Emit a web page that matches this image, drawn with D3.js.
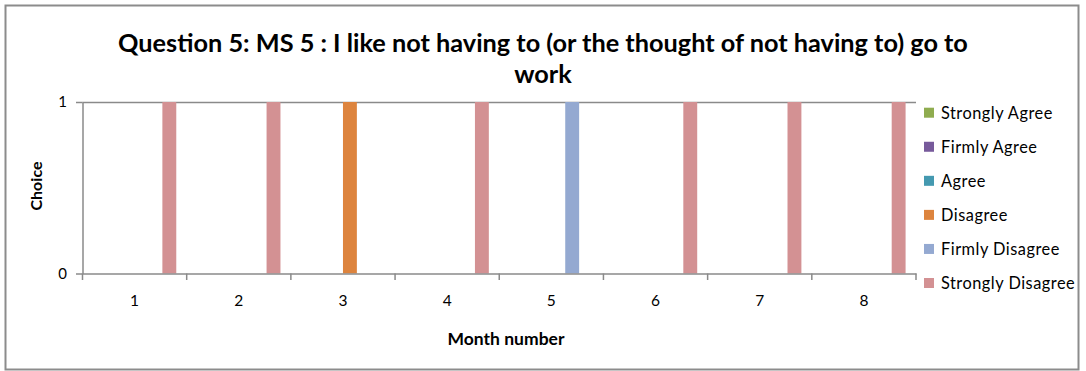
<!DOCTYPE html>
<html>
<head>
<meta charset="utf-8">
<script src="https://cdn.jsdelivr.net/npm/d3@7"></script>
<style>
  html, body { margin: 0; padding: 0; background: #fff; }
  svg { display: block; }
  text { font-family: Lato, "Liberation Sans", sans-serif; fill: #000; }
</style>
</head>
<body>
<svg id="chart" width="1086" height="371"></svg>
<script>
// Month categories and answer series
const months = ["1", "2", "3", "4", "5", "6", "7", "8"];
const seriesNames = ["Strongly Agree", "Firmly Agree", "Agree", "Disagree", "Firmly Disagree", "Strongly Disagree"];
const seriesColors = ["#8fac4f", "#775a9b", "#4499b0", "#dd843e", "#94a9d1", "#d39193"];

// Value of each series per month (1 = chosen answer)
const stronglyAgree    = [0, 0, 0, 0, 0, 0, 0, 0];
const firmlyAgree      = [0, 0, 0, 0, 0, 0, 0, 0];
const agree            = [0, 0, 0, 0, 0, 0, 0, 0];
const disagree         = [0, 0, 1, 0, 0, 0, 0, 0];
const firmlyDisagree   = [0, 0, 0, 0, 1, 0, 0, 0];
const stronglyDisagree = [1, 1, 0, 1, 0, 1, 1, 1];

const yTicks = [0, 1];

const titleLines = ["Question 5: MS 5 : I like not having to (or the thought of not having to) go to", "work"];
const xTitle = "Month number";
const yTitle = "Choice";

const seriesValues = [stronglyAgree, firmlyAgree, agree, disagree, firmlyDisagree, stronglyDisagree];
const rows = [];
months.forEach((m, i) => {
  seriesNames.forEach((s, j) => rows.push({ month: m, series: s, value: seriesValues[j][i], color: seriesColors[j] }));
});

const svg = d3.select("#chart");
const axisGrey = "#8a8a8a";

// Outer chart frame
svg.append("rect")
  .attr("x", 5.5).attr("y", 5.5).attr("width", 1073).attr("height", 364)
  .attr("fill", "#fff").attr("stroke", "#8c8c8c").attr("stroke-width", 2);

const plot = { left: 82.5, right: 916, top: 102, bottom: 273.5 };

const x0 = d3.scaleBand().domain(months).range([plot.left, plot.right]).padding(0);
const x1 = d3.scaleBand().domain(seriesNames).range([0, x0.bandwidth()]).paddingInner(0).paddingOuter(0.75);
const y = d3.scaleLinear().domain([0, 1]).range([plot.bottom, plot.top]);

// Helper: scale a text's font size so it spans a given width
function fitWidth(sel, target) {
  const node = sel.node();
  const fs = parseFloat(sel.attr("font-size"));
  const w = node.getComputedTextLength();
  sel.attr("font-size", (fs * target / w).toFixed(2));
}

// Horizontal gridline at the top tick
svg.append("g")
  .selectAll("line")
  .data(yTicks.filter(t => t > 0))
  .join("line")
  .attr("x1", plot.left).attr("x2", plot.right)
  .attr("y1", d => y(d) + 0.5).attr("y2", d => y(d) + 0.5)
  .attr("stroke", axisGrey).attr("stroke-width", 1.5);

// Bars
svg.append("g")
  .selectAll("rect")
  .data(rows.filter(d => d.value > 0))
  .join("rect")
  .attr("x", d => x0(d.month) + x1(d.series))
  .attr("width", x1.bandwidth())
  .attr("y", d => y(d.value))
  .attr("height", d => y(0) - y(d.value))
  .attr("fill", d => d.color);

// Y axis
const yAxis = svg.append("g")
  .attr("transform", `translate(${plot.left},0)`)
  .call(d3.axisLeft(y).tickValues(yTicks).tickFormat(d3.format("d")).tickSize(6.5).tickSizeOuter(0).tickPadding(9));
yAxis.select(".domain").attr("stroke", axisGrey).attr("stroke-width", 1.5);
yAxis.selectAll(".tick line").attr("stroke", axisGrey).attr("stroke-width", 1.5);
yAxis.selectAll(".tick text").attr("font-size", 15).attr("font-family", "Lato, sans-serif").attr("fill", "#000");

// X axis: labels at category centres
const xAxis = svg.append("g")
  .attr("transform", `translate(0,${plot.bottom})`)
  .call(d3.axisBottom(x0).tickSize(0).tickSizeOuter(0).tickPadding(21));
xAxis.select(".domain").attr("stroke", axisGrey).attr("stroke-width", 1.5);
xAxis.selectAll(".tick text").attr("font-size", 15.5).attr("font-family", "Lato, sans-serif").attr("fill", "#000");

// X axis tick marks on category boundaries
const boundaries = months.map(m => x0(m)).concat([x0.range()[1]]);
svg.append("g")
  .selectAll("line")
  .data(boundaries)
  .join("line")
  .attr("x1", d => d).attr("x2", d => d)
  .attr("y1", plot.bottom).attr("y2", plot.bottom + 6.5)
  .attr("stroke", axisGrey).attr("stroke-width", 1.5);

// Title
const titleSel = svg.append("g").attr("font-weight", "bold");
const t1 = titleSel.append("text")
  .attr("x", 543).attr("y", 52).attr("text-anchor", "middle")
  .attr("font-size", 20).attr("font-weight", "bold").text(titleLines[0]);
fitWidth(t1, 850);
titleSel.append("text")
  .attr("x", 543).attr("y", 83).attr("text-anchor", "middle")
  .attr("font-size", t1.attr("font-size")).attr("font-weight", "bold").text(titleLines[1]);

// Axis titles
const xt = svg.append("text")
  .attr("x", 506).attr("y", 345).attr("text-anchor", "middle")
  .attr("font-size", 15).attr("font-weight", "bold").text(xTitle);
fitWidth(xt, 117);

const yt = svg.append("text")
  .attr("transform", "translate(42,186) rotate(-90)")
  .attr("text-anchor", "middle")
  .attr("font-size", 15).attr("font-weight", "bold").text(yTitle);
fitWidth(yt, 49);

// Legend
const legendY = d3.scalePoint().domain(seriesNames).range([112.7, 283]);
const legend = svg.append("g");
const items = legend.selectAll("g")
  .data(seriesNames)
  .join("g")
  .attr("transform", d => `translate(924,${legendY(d)})`);
items.append("rect")
  .attr("x", 0).attr("y", -5).attr("width", 10).attr("height", 10)
  .attr("fill", (d, i) => seriesColors[i]);
const labels = items.append("text")
  .attr("x", 17).attr("dy", "0.36em")
  .attr("font-size", 15).attr("letter-spacing", 0.5).text(d => d);
const longest = labels.filter(d => d === "Strongly Disagree");
fitWidth(longest, 135);
labels.attr("font-size", longest.attr("font-size"));
</script>
</body>
</html>
